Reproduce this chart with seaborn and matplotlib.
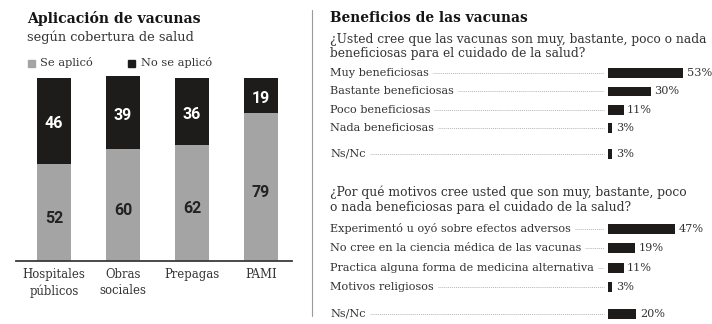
import numpy as np
import pandas as pd
import matplotlib
matplotlib.use("Agg")
import matplotlib.pyplot as plt
import seaborn as sns
from matplotlib.transforms import blended_transform_factory
from matplotlib.lines import Line2D
from matplotlib.patches import Rectangle

# ---------------- data ----------------
coberturas = ["Hospitales\npúblicos", "Obras\nsociales", "Prepagas", "PAMI"]
se_aplico = [52, 60, 62, 79]
no_se_aplico = [46, 39, 36, 19]

beneficio_cats = ["Muy beneficiosas", "Bastante beneficiosas", "Poco beneficiosas",
                  "Nada beneficiosas", "Ns/Nc"]
beneficio_vals = [53, 30, 11, 3, 3]

motivo_cats = ["Experimentó u oyó sobre efectos adversos",
               "No cree en la ciencia médica de las vacunas",
               "Practica alguna forma de medicina alternativa",
               "Motivos religiosos", "Ns/Nc"]
motivo_vals = [47, 19, 11, 3, 20]

# ---------------- style ----------------
sns.set_theme(style="white")
plt.rcParams["font.family"] = ["DejaVu Serif"]
BLACK = "#1e1b1b"
GRAY = "#a4a4a4"
TXT = "#333333"
DARK = "#151515"

W, H = 712, 324
fig = plt.figure(figsize=(W / 100, H / 100), dpi=100)
fig.patch.set_facecolor("white")


def px_axes(x0, y0, x1, y1):
    return fig.add_axes([x0 / W, 1 - y1 / H, (x1 - x0) / W, (y1 - y0) / H])


def fy(y):
    return 1 - y / H


# ---------------- left panel ----------------
fig.text(27 / W, fy(18), "Aplicación de vacunas", fontsize=10.1, weight="bold",
         color=DARK, va="center", ha="left")
fig.text(27 / W, fy(37.5), "según cobertura de salud", fontsize=9.3,
         color=TXT, va="center", ha="left")
# legend
fig.patches.append(Rectangle((28 / W, fy(66.5)), 7 / W, 7 / H, transform=fig.transFigure,
                             color=GRAY, figure=fig))
fig.text(40 / W, fy(62.5), "Se aplicó", fontsize=8.2, color=TXT, va="center")
fig.patches.append(Rectangle((128 / W, fy(66.5)), 7 / W, 7 / H, transform=fig.transFigure,
                             color=BLACK, figure=fig))
fig.text(141 / W, fy(62.5), "No se aplicó", fontsize=8.2, color=TXT, va="center")

axL = px_axes(16, 76, 292, 261)
dfL = pd.DataFrame({"cob": coberturas, "se": se_aplico, "no": no_se_aplico})
dfL["total"] = dfL["se"] + dfL["no"]
sns.barplot(data=dfL, x="cob", y="total", color=BLACK, saturation=1, width=0.49,
            ax=axL, linewidth=0)
sns.barplot(data=dfL, x="cob", y="se", color=GRAY, saturation=1, width=0.49,
            ax=axL, linewidth=0)
axL.set_xlim(-0.55, 3.45)
axL.set_ylim(0, 99)
axL.set_xlabel("")
axL.set_ylabel("")
axL.set_yticks([])
for s in ["top", "right", "left"]:
    axL.spines[s].set_visible(False)
axL.spines["bottom"].set_color("#3a3a3a")
axL.spines["bottom"].set_linewidth(1.3)
axL.tick_params(axis="x", length=0, pad=5, labelsize=8.4, labelcolor=TXT)
for lab in axL.get_xticklabels():
    lab.set_linespacing(1.3)
    lab.set_va("top")
for i, (s, n) in enumerate(zip(dfL["se"], dfL["no"])):
    axL.text(i, s / 2 - 3, f"{s}", ha="center", va="center", fontsize=11.5,
             weight="bold", color="#222222", family=["Roboto", "DejaVu Sans"])
    axL.text(i, s + n / 2 - 1.5, f"{n}", ha="center", va="center", fontsize=11.5,
             weight="bold", color="white", family=["Roboto", "DejaVu Sans"])

# separator
fig.add_artist(Line2D([312 / W, 312 / W], [fy(10), fy(316)], color="#9a9a9a", lw=0.8))

# ---------------- right panel ----------------
fig.text(330 / W, fy(18), "Beneficios de las vacunas", fontsize=9.9, weight="bold",
         color=DARK, va="center", ha="left")
QS = 8.8
fig.text(330 / W, fy(39), "¿Usted cree que las vacunas son muy, bastante, poco o nada",
         fontsize=QS, color=TXT, va="center", ha="left")
fig.text(330 / W, fy(53.5), "beneficiosas para el cuidado de la salud?",
         fontsize=QS, color=TXT, va="center", ha="left")
fig.text(330 / W, fy(192), "¿Por qué motivos cree usted que son muy, bastante, poco",
         fontsize=QS, color=TXT, va="center", ha="left")
fig.text(330 / W, fy(207), "o nada beneficiosas para el cuidado de la salud?",
         fontsize=QS, color=TXT, va="center", ha="left")

X0 = 608
PXU = 1.42


def hpanel(cats, vals, ytop, step):
    n = len(cats)
    pos = np.arange(n, dtype=float)
    pos[-1] += 0.4
    lo, hi = -0.6, pos[-1] + 0.6
    ax = px_axes(X0, ytop + lo * step, W, ytop + hi * step)
    df = pd.DataFrame({"cat": cats, "val": vals, "pos": pos})
    sns.barplot(data=df, x="val", y="pos", orient="h", native_scale=True,
                color=BLACK, saturation=1, width=0.52, ax=ax, linewidth=0)
    ax.set_ylim(hi, lo)
    ax.set_xlim(0, (W - X0) / PXU)
    ax.axis("off")
    tr = blended_transform_factory(fig.transFigure, ax.transData)
    labels = []
    for c, v, p in zip(cats, vals, pos):
        labels.append(ax.text(330 / W, p, c, transform=tr, ha="left", va="center",
                              fontsize=8.1, color=TXT))
        ax.annotate(f"{v}%", (v, p), xytext=(2.5, 0), textcoords="offset points",
                    ha="left", va="center", fontsize=8.1, color=TXT)
    return ax, labels, pos


axT, labT, posT = hpanel(beneficio_cats, beneficio_vals, 73, 18.4)
axB, labB, posB = hpanel(motivo_cats, motivo_vals, 229, 19.3)

fig.canvas.draw()
rend = fig.canvas.get_renderer()
for ax, labs, pos in [(axT, labT, posT), (axB, labB, posB)]:
    for lab, p in zip(labs, pos):
        bb = lab.get_window_extent(rend)
        ypx = ax.transData.transform((0, p))[1]
        fig.add_artist(Line2D([(bb.x1 + 4) / W, (X0 - 4) / W], [ypx / H, ypx / H],
                              color="#b5b5b5", lw=0.7, linestyle=(0, (1, 1))))

fig.savefig("out.png", dpi=100, facecolor="white")
